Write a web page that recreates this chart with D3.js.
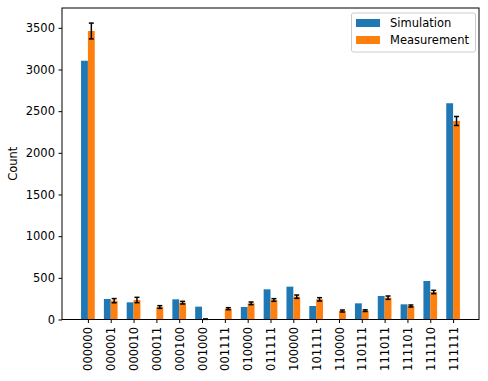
<!DOCTYPE html>
<html lang="en">
<head>
<meta charset="utf-8">
<title>Simulation vs Measurement</title>
<script src="https://cdn.jsdelivr.net/npm/d3@7"></script>
<style>
  body { margin: 0; background: #fff; }
  text { font-family: "DejaVu Sans", sans-serif; fill: #000; }
</style>
</head>
<body>
<script>
// data
var states = ["000000", "000001", "000010", "000011", "000100", "001000", "001111", "010000",
              "011111", "100000", "101111", "110000", "110111", "111011", "111101", "111110", "111111"];
var simulation = [3105, 246, 206, 0, 242, 154, 0, 150, 362, 394, 162, 0, 194, 282, 182, 462, 2595];
var measurement = [3462, 226, 234, 150, 202, 4, 130, 194, 234, 274, 242, 102, 106, 262, 162, 330, 2382];
var measErr = [95, 25, 32, 16, 16, 2, 12, 16, 16, 20, 20, 12, 10, 20, 12, 20, 54];
var yTicks = [0, 500, 1000, 1500, 2000, 2500, 3000, 3500];

var w = 488, h = 381;
var padL = 62, padR = 479, padT = 8, padB = 319.5;
var barW = 0.3;
var fs = "11.5px";

var svg = d3.select("body").append("svg")
    .attr("width", w)
    .attr("height", h);

var xScale = d3.scaleLinear()
    .domain([-1.135, states.length - 1 + 1.135])
    .range([padL, padR]);
var yScale = d3.scaleLinear()
    .domain([0, 3738])
    .range([padB, padT]);

var unit = xScale(1) - xScale(0);

// bars
svg.append("g").selectAll("rect")
    .data(simulation)
    .enter().append("rect")
    .attr("x", function(d, i) { return xScale(i - barW); })
    .attr("y", function(d) { return yScale(d); })
    .attr("width", barW * unit)
    .attr("height", function(d) { return yScale(0) - yScale(d); })
    .attr("fill", "#1f77b4");

svg.append("g").selectAll("rect")
    .data(measurement)
    .enter().append("rect")
    .attr("x", function(d, i) { return xScale(i); })
    .attr("y", function(d) { return yScale(d); })
    .attr("width", barW * unit)
    .attr("height", function(d) { return yScale(0) - yScale(d); })
    .attr("fill", "#ff7f0e");

// error bars
var eb = svg.append("g").selectAll("g")
    .data(measurement)
    .enter().append("g")
    .attr("stroke", "#000")
    .attr("stroke-width", 1.5);
eb.append("line")
    .attr("x1", function(d, i) { return xScale(i + barW / 2); })
    .attr("x2", function(d, i) { return xScale(i + barW / 2); })
    .attr("y1", function(d, i) { return yScale(d - measErr[i]); })
    .attr("y2", function(d, i) { return yScale(d + measErr[i]); });
[-1, 1].forEach(function(s) {
  eb.append("line")
    .attr("x1", function(d, i) { return xScale(i + barW / 2) - 2.5; })
    .attr("x2", function(d, i) { return xScale(i + barW / 2) + 2.5; })
    .attr("y1", function(d, i) { return yScale(d + s * measErr[i]); })
    .attr("y2", function(d, i) { return yScale(d + s * measErr[i]); });
});

// axes
var yAxis = d3.axisLeft(yScale).tickValues(yTicks).tickFormat(d3.format("d"))
    .tickSizeInner(3.5).tickSizeOuter(0).tickPadding(3.5);
var gY = svg.append("g")
    .attr("transform", "translate(" + padL + ",0)")
    .call(yAxis);
gY.select(".domain").remove();
gY.selectAll("text").style("font-size", fs).style("font-family", "DejaVu Sans");

var xAxis = d3.axisBottom(xScale).tickValues(d3.range(states.length))
    .tickFormat(function(i) { return states[i]; })
    .tickSizeInner(3.5).tickSizeOuter(0).tickPadding(3.5);
var gX = svg.append("g")
    .attr("transform", "translate(0," + padB + ")")
    .call(xAxis);
gX.select(".domain").remove();
gX.selectAll("text")
    .style("font-size", fs)
    .style("font-family", "DejaVu Sans")
    .attr("text-anchor", "end")
    .attr("dy", "0.35em")
    .attr("transform", "translate(0,7.5) rotate(-90)")
    .attr("x", 0)
    .attr("y", 0);

// frame
svg.append("rect")
    .attr("x", padL).attr("y", padT)
    .attr("width", padR - padL).attr("height", padB - padT)
    .attr("fill", "none").attr("stroke", "#000").attr("stroke-width", 1);

// y label
svg.append("text")
    .attr("transform", "translate(17," + ((padT + padB) / 2) + ") rotate(-90)")
    .attr("text-anchor", "middle")
    .style("font-size", fs)
    .text("Count");

// legend
var legend = svg.append("g").attr("transform", "translate(351.5,13)");
legend.append("rect")
    .attr("width", 124).attr("height", 39).attr("rx", 2)
    .attr("fill", "#fff").attr("fill-opacity", 0.8)
    .attr("stroke", "#ccc").attr("stroke-width", 1);
var series = [{name: "Simulation", color: "#1f77b4"}, {name: "Measurement", color: "#ff7f0e"}];
var li = legend.selectAll("g.item").data(series).enter().append("g")
    .attr("class", "item")
    .attr("transform", function(d, i) { return "translate(0," + (10 + i * 17) + ")"; });
li.append("rect").attr("x", 4.5).attr("y", -4).attr("width", 24).attr("height", 8)
    .attr("fill", function(d) { return d.color; });
li.append("text").attr("x", 38.5).attr("y", 0).attr("dy", "0.35em")
    .style("font-size", fs)
    .text(function(d) { return d.name; });
</script>
</body>
</html>
